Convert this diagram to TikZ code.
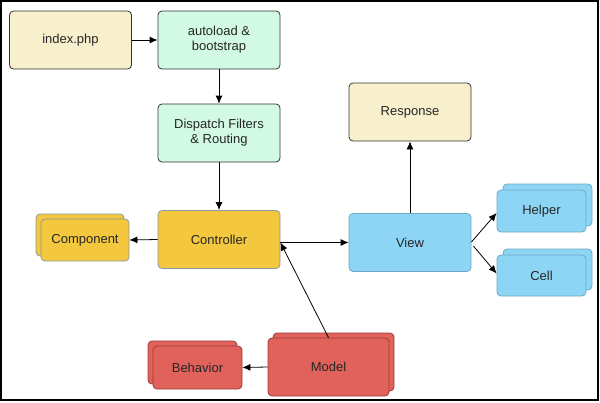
\documentclass[tikz,border=0pt]{standalone}
\usepackage{fontspec}
\setmainfont{Liberation Sans}
\usetikzlibrary{arrows.meta,shadows}
\definecolor{creamF}{HTML}{F8EFCD}
\definecolor{mintF}{HTML}{D2F9E4}
\definecolor{yelF}{HTML}{F3C73E}
\definecolor{yelD}{HTML}{8C99A0}
\definecolor{bluF}{HTML}{8DD5F5}
\definecolor{bluD}{HTML}{6BA9C4}
\definecolor{redF}{HTML}{E0625A}
\definecolor{redD}{HTML}{9B3B3B}
\begin{document}
\begin{tikzpicture}[x=1pt,y=-1pt,
  box/.style={draw, rounded corners=4pt, line width=0.8pt, align=center,
    font=\fontsize{13}{15}\selectfont, inner sep=0pt, text=black!85},
  big/.style={box, minimum width=122pt, minimum height=58pt},
  small/.style={box, minimum width=88pt, minimum height=42pt},
  cream/.style={fill=creamF, draw=black!80},
  mint/.style={fill=mintF, draw=black!80},
  yel/.style={fill=yelF, draw=yelD},
  blu/.style={fill=bluF, draw=bluD},
  red/.style={fill=redF, draw=redD},
  shUL/.style={copy shadow={shadow xshift=-5pt, shadow yshift=5pt}},
  shUR/.style={copy shadow={shadow xshift=5pt, shadow yshift=5pt}},
  shUR6/.style={copy shadow={shadow xshift=6pt, shadow yshift=6pt}},
  arr/.style={-{Latex[length=8pt,width=7pt]}, line width=0.8pt, black}
]
\useasboundingbox (0,0) rectangle (600,402);
\draw[line width=1.5pt] (1,1) rectangle (598,400);

\node[big, cream] (idx) at (70.5,40) {index.php};
\node[big, mint] (auto) at (219,40) {autoload \&\\bootstrap};
\node[big, mint] (disp) at (219,133) {Dispatch Filters\\\& Routing};
\node[big, yel] (ctrl) at (219,239.5) {Controller};
\node[small, yel, shUL] (comp) at (85,240) {Component};
\node[big, cream] (resp) at (410,112) {Response};
\node[big, blu] (view) at (410,242.5) {View};
\node[small, blu, shUR6, minimum width=89pt] (helper) at (541.5,211) {Helper};
\node[small, blu, shUR6, minimum width=89pt, minimum height=41pt] (cell) at (541.5,275.5) {Cell};
\node[big, red, shUR, minimum width=121pt] (model) at (328.5,367) {Model};
\node[small, red, shUL, minimum width=89pt, minimum height=43pt] (beh) at (197.5,367.5) {Behavior};

\draw[arr] (idx.east) -- (auto.west);
\draw[arr] (auto.south) -- (disp.north);
\draw[arr] (disp.south) -- (ctrl.north);
\draw[arr] (ctrl.west) -- (comp.east);
\draw[arr] (view.west -| ctrl.east) -- (view.west);
\draw[arr] (model.north) -- ([yshift=-3pt]ctrl.east);
\draw[arr] (view.north) -- (resp.south);
\draw[arr] ([yshift=0.5pt]view.east) -- ([yshift=-2pt]helper.west);
\draw[arr] ([yshift=-3.5pt,xshift=2pt]view.east) -- ([yshift=2pt]cell.west);
\draw[arr] (model.west) -- (beh.east);
\end{tikzpicture}
\end{document}
